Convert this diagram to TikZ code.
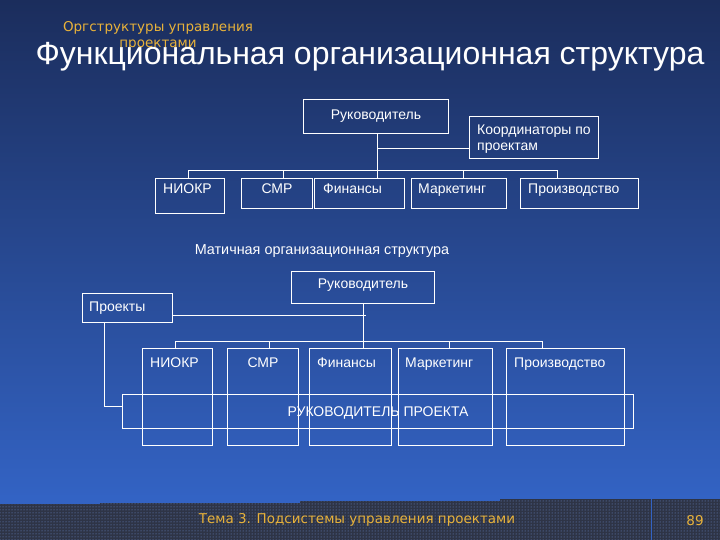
\documentclass[tikz,border=0pt]{standalone}
\usepackage{fontspec}
\setmainfont{Liberation Sans}
\newfontfamily\slidefont{DejaVu Sans}
\usetikzlibrary{patterns}

\definecolor{bgtop}{HTML}{1B2D5C}
\definecolor{bgbot}{HTML}{3363C4}
\definecolor{foot}{HTML}{2E3446}
\definecolor{gold}{HTML}{E8B23A}

\tikzset{
  box/.style={draw=white,line width=1pt,inner sep=0pt,anchor=north west},
  lbl/.style={text=white,font=\fontsize{14}{16}\selectfont,inner sep=0pt,text height=10pt,text depth=0pt},
  link/.style={draw=white,line width=1pt},
  goldtxt/.style={text=gold,font=\slidefont\fontsize{13.5}{15}\selectfont,inner sep=0pt}
}

\begin{document}
\begin{tikzpicture}[x=1pt,y=-1pt]
\useasboundingbox (0,0) rectangle (720,540);
\shade[top color=bgtop,bottom color=bgbot] (0,0) rectangle (720,500);
\fill[bgbot] (0,495) rectangle (720,505);
% footer band
\fill[foot] (0,540) -- (0,504) -- (100,504) -- (100,503) -- (300,503) -- (300,501)
  -- (500,501) -- (500,499) -- (720,499) -- (720,540) -- cycle;
\fill[pattern=dots,pattern color=bgbot!70] (0,540) -- (0,504) -- (100,504) -- (100,503) -- (300,503) -- (300,501)
  -- (500,501) -- (500,499) -- (720,499) -- (720,540) -- cycle;
\draw[bgbot,line width=1pt] (651,499) -- (651,540);
\node[goldtxt] (topic) at (357,520) {Тема 3. Подсистемы управления проектами};
\node[goldtxt] (page) at (695,521) {89};

% header
\node[goldtxt] (sect1) at (158,28) {Оргструктуры управления};
\node[goldtxt] (sect2) at (158,45) {проектами};
\node[text=white,font=\fontsize{32}{36}\selectfont,inner sep=0pt] (title) at (370,57) {Функциональная организационная структура};

% functional structure
\node[box,minimum width=145,minimum height=34] (head) at (303,99) {};
\node[lbl] at (head.center) [yshift=2] {Руководитель};
\node[box,minimum width=129,minimum height=42] (coord) at (469,116) {};
\node[text=white,font=\fontsize{14}{16}\selectfont,inner sep=0pt,anchor=west,align=left] at ([xshift=8,yshift=-2]coord.west) {Координаторы по\\проектам};
\node[box,minimum width=69,minimum height=35] (f1) at (155,178) {};
\node[box,minimum width=71,minimum height=30] (f2) at (241,178) {};
\node[box,minimum width=90,minimum height=30] (f3) at (314,178) {};
\node[box,minimum width=95,minimum height=30] (f4) at (411,178) {};
\node[box,minimum width=118,minimum height=30] (f5) at (520,178) {};
\node[lbl,anchor=west] at ([xshift=8,yshift=-11]f1.north west) {НИОКР};
\node[lbl] at ([yshift=-11]f2.north) {СМР};
\node[lbl,anchor=west] at ([xshift=9,yshift=-11]f3.north west) {Финансы};
\node[lbl,anchor=west] at ([xshift=7,yshift=-11]f4.north west) {Маркетинг};
\node[lbl,anchor=west] at ([xshift=8,yshift=-11]f5.north west) {Производство};
\coordinate (fbus) at (377,171);
\draw[link] (head.south -| fbus) -- (fbus);
\draw[link] (377,149) -- (coord.west |- 0,149);
\draw[link] (f1.north -| 188,0) -- (188,171) -- (557,171) -- (f5.north -| 557,0);
\draw[link] (283,171) -- (f2.north -| 283,0);
\draw[link] (fbus) -- (f3.north -| fbus);
\draw[link] (463,171) -- (f4.north -| 463,0);

% matrix structure
\node[text=white,font=\fontsize{14.4}{16}\selectfont] (mtitle) at (322,251) {Матичная организационная структура};
\node[box,minimum width=143,minimum height=32] (mhead) at (291,271) {};
\node[lbl] at (mhead.center) [yshift=4] {Руководитель};
\node[box,minimum width=90,minimum height=29] (proj) at (82,293) {};
\node[lbl,anchor=west] at ([xshift=7,yshift=2]proj.west) {Проекты};
\node[box,minimum width=70,minimum height=97] (m1) at (142,348) {};
\node[box,minimum width=71,minimum height=97] (m2) at (227,348) {};
\node[box,minimum width=82,minimum height=97] (m3) at (309,348) {};
\node[box,minimum width=94,minimum height=97] (m4) at (398,348) {};
\node[box,minimum width=118,minimum height=97] (m5) at (506,348) {};
\node[box,minimum width=511,minimum height=34] (pm) at (122,394) {};
\node[lbl] at (pm.center) {РУКОВОДИТЕЛЬ ПРОЕКТА};
\node[lbl,anchor=west] at ([xshift=8,yshift=-14]m1.north west) {НИОКР};
\node[lbl] at ([yshift=-14]m2.north) {СМР};
\node[lbl,anchor=west] at ([xshift=8,yshift=-14]m3.north west) {Финансы};
\node[lbl,anchor=west] at ([xshift=7,yshift=-14]m4.north west) {Маркетинг};
\node[lbl,anchor=west] at ([xshift=8,yshift=-14]m5.north west) {Производство};
\coordinate (mbus) at (363,341);
\draw[link] (mhead.south -| mbus) -- (mbus);
\draw[link] (proj.east |- 0,315) -- (366,315);
\draw[link] (m1.north -| 175,0) -- (175,341) -- (542,341) -- (m5.north -| 542,0);
\draw[link] (269,341) -- (m2.north -| 269,0);
\draw[link] (mbus) -- (m3.north -| mbus);
\draw[link] (449,341) -- (m4.north -| 449,0);
\draw[link] (proj.south -| 104,0) -- (104,406) -- (pm.west |- 0,406);
\end{tikzpicture}
\end{document}
